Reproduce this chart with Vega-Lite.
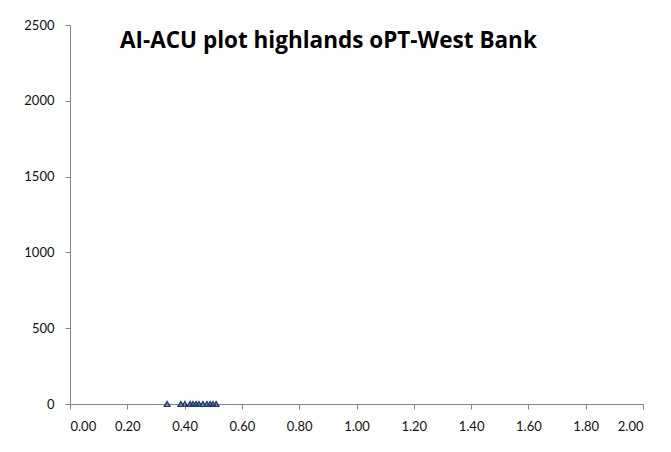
{
  "$schema": "https://vega.github.io/schema/vega-lite/v6.json",
  "width": 573,
  "height": 379,
  "autosize": {"type": "none"},
  "padding": {"left": 70, "top": 25, "right": 28, "bottom": 48},
  "background": "white",
  "title": {
    "text": "AI-ACU plot highlands oPT-West Bank",
    "font": "Open Sans",
    "fontSize": 22.5,
    "fontWeight": "bold",
    "color": "#000000",
    "anchor": "start",
    "frame": "group",
    "dx": 50,
    "baseline": "alphabetic",
    "offset": -51
  },
  "config": {
    "view": {"stroke": null},
    "axis": {
      "labelFont": "Lato",
      "labelFontSize": 13,
      "labelColor": "#111111",
      "domainColor": "#868686",
      "tickColor": "#868686",
      "grid": false,
      "title": null,
      "tickSize": 5
    }
  },
  "data": {
    "values": [
      {"aiacu": 0.339, "value": 0},
      {"aiacu": 0.387, "value": 0},
      {"aiacu": 0.401, "value": 0},
      {"aiacu": 0.419, "value": 0},
      {"aiacu": 0.429, "value": 0},
      {"aiacu": 0.440, "value": 0},
      {"aiacu": 0.450, "value": 0},
      {"aiacu": 0.464, "value": 0},
      {"aiacu": 0.478, "value": 0},
      {"aiacu": 0.489, "value": 0},
      {"aiacu": 0.499, "value": 0},
      {"aiacu": 0.510, "value": 0}
    ]
  },
  "mark": {"type": "point", "shape": "triangle-up", "filled": false, "size": 30, "strokeWidth": 1.5, "color": "#1F3A78", "opacity": 1},
  "encoding": {
    "x": {
      "field": "aiacu",
      "type": "quantitative",
      "scale": {"domain": [0, 2], "nice": false},
      "axis": {"values": [0, 0.2, 0.4, 0.6, 0.8, 1.0, 1.2, 1.4, 1.6, 1.8, 2.0], "format": ".2f", "labelPadding": 11}
    },
    "y": {
      "field": "value",
      "type": "quantitative",
      "scale": {"domain": [0, 2500], "nice": false},
      "axis": {"values": [0, 500, 1000, 1500, 2000, 2500], "format": "d", "labelPadding": 11}
    }
  }
}
